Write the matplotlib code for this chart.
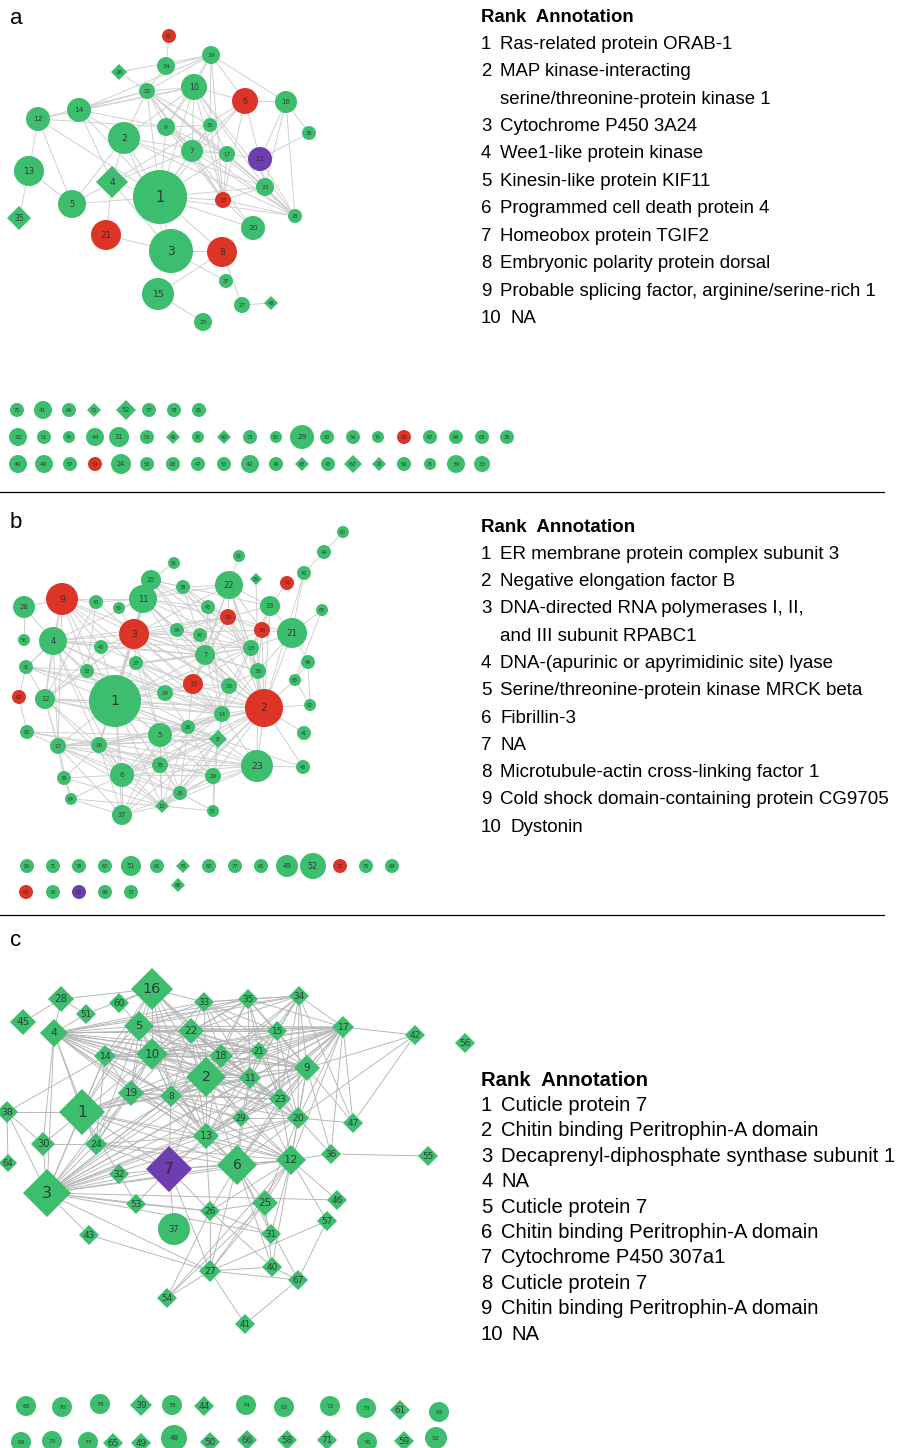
import matplotlib.pyplot as plt
from matplotlib.patches import Circle, RegularPolygon

GREEN = "#3dbd6e"
RED = "#dc3427"
PURPLE = "#6e3db0"
COLS = {"g": GREEN, "r": RED, "p": PURPLE}

# ---------------- panel a: network ----------------
a_ids = [61, 19, 34, 26, 22, 10, 6, 16, 14, 12, 9, 30, 38, 2, 7, 17, 11, 13, 4, 1,
         23, 18, 5, 28, 35, 20, 21, 3, 8, 37, 15, 27, 48, 25]
a_x = [169, 211, 166, 119, 147, 194, 245, 286, 79, 38, 166, 210, 309, 124, 192, 227, 260, 29, 112, 160,
       265, 223, 72, 295, 19, 253, 106, 171, 222, 226, 158, 242, 271, 203]
a_y = [36, 55, 66, 72, 91, 87, 101, 102, 110, 119, 127, 125, 133, 138, 151, 154, 159, 171, 182, 197,
       187, 200, 204, 216, 218, 228, 235, 251, 252, 281, 294, 305, 303, 322]
a_size = [7, 9, 9, 8, 8, 13, 13, 11, 12, 12, 9, 7, 7, 16, 11, 8, 12, 15, 16, 27,
          9, 8, 14, 7, 12, 12, 15, 22, 15, 7, 16, 8, 7, 9]
a_shape = ["c", "c", "c", "d", "c", "c", "c", "c", "c", "c", "c", "c", "c", "c", "c", "c", "c", "c", "d", "c",
           "c", "c", "c", "c", "d", "c", "c", "c", "c", "c", "c", "c", "d", "c"]
a_col = ["r", "g", "g", "g", "g", "g", "r", "g", "g", "g", "g", "g", "g", "g", "g", "g", "p", "g", "g", "g",
         "g", "r", "g", "g", "g", "g", "r", "g", "r", "g", "g", "g", "g", "g"]
a_links = {
    61: [34], 34: [19, 22], 26: [19, 22],
    19: [22, 10, 16, 6, 9, 30, 18, 14],
    22: [14, 10, 2, 9, 1, 7, 17, 23, 28, 30, 18, 12],
    10: [14, 6, 9, 7, 1, 2, 17, 18, 23, 28, 12],
    6: [16, 11, 1, 18, 7, 4], 16: [11, 38, 23, 28], 38: [11],
    14: [2, 9, 4, 1], 12: [9, 13, 5, 1], 9: [30, 1, 17, 18, 28, 7],
    30: [7, 1, 18], 2: [5, 4, 1, 3, 17, 23, 28], 7: [1, 17, 18, 20, 28, 4],
    17: [11, 1, 23, 28, 18], 11: [23, 28], 13: [5, 35], 4: [1, 21, 3, 5],
    1: [5, 23, 18, 20, 28, 3, 8], 23: [18, 28], 18: [28, 20], 21: [3],
    3: [8, 37], 8: [15, 27], 15: [25], 27: [48],
}

# panel a: unconnected nodes, three rows
ai_ids = [70, 41, 64, 71, 52, 77, 78, 81,
          32, 51, 74, 44, 31, 53, 45, 76, 60, 73, 80, 29, 50, 54, 79, 69, 67, 66, 63, 36,
          49, 40, 57, 59, 24, 58, 68, 47, 55, 42, 46, 65, 43, 62, 72, 56, 75, 39, 33]
ai_x = [17, 43, 69, 94, 126, 149, 174, 199,
        18, 44, 69, 95, 119, 147, 173, 198, 224, 250, 276, 302, 327, 353, 378, 404, 430, 456, 482, 507,
        18, 44, 70, 95, 121, 147, 173, 198, 224, 250, 276, 302, 328, 353, 379, 404, 430, 456, 482]
ai_y = [410] * 8 + [437] * 20 + [464] * 19
ai_size = [7, 9, 7, 7, 10, 7, 7, 7,
           9, 7, 6, 9, 10, 7, 7, 6, 7, 7, 6, 12, 7, 7, 6, 7, 7, 7, 7, 7,
           9, 9, 7, 7, 10, 7, 7, 7, 7, 9, 7, 7, 7, 9, 7, 7, 6, 9, 8]
ai_shape = ["c", "c", "c", "d", "d", "c", "c", "c",
            "c", "c", "c", "c", "c", "c", "d", "c", "d", "c", "c", "c", "c", "c", "c", "c", "c", "c", "c", "c",
            "c", "c", "c", "c", "c", "c", "c", "c", "c", "c", "c", "d", "c", "d", "d", "c", "c", "c", "c"]
ai_col = ["g"] * 8 + ["g"] * 15 + ["r"] + ["g"] * 4 + ["g", "g", "g", "r"] + ["g"] * 15

# ---------------- panel b: network ----------------
b_ids = [60, 44, 54, 55, 42, 20, 38, 22, 59, 74, 9, 28, 43, 53, 11, 45, 33, 68, 18, 36,
         21, 56, 4, 3, 34, 47, 40, 7, 13, 27, 31, 32, 46, 30, 58, 19, 15, 24, 61, 12,
         1, 2, 62, 14, 26, 50, 41, 5, 8, 17, 16, 35, 23, 48, 39, 6, 29, 25, 64, 10, 57, 37]
b_x = [343, 324, 239, 174, 304, 151, 183, 229, 256, 287, 62, 24, 96, 119, 143, 208, 270, 322, 228, 262,
       292, 24, 53, 134, 177, 200, 101, 205, 251, 136, 26, 87, 308, 258, 295, 193, 229, 165, 19, 45,
       115, 264, 310, 222, 188, 27, 304, 160, 218, 58, 99, 160, 257, 303, 64, 122, 213, 180, 71, 162, 213, 122]
b_y = [532, 552, 556, 563, 573, 580, 587, 585, 579, 583, 599, 607, 602, 608, 599, 607, 606, 610, 617, 630,
       633, 640, 641, 634, 630, 635, 647, 655, 648, 663, 667, 671, 662, 671, 680, 684, 686, 693, 697, 699,
       701, 708, 705, 714, 727, 732, 733, 735, 739, 746, 745, 765, 766, 767, 778, 775, 776, 793, 799, 806, 811, 815]
b_size = [6, 7, 6, 6, 7, 10, 7, 14, 6, 7, 16, 11, 7, 6, 14, 7, 10, 6, 8, 8,
          15, 6, 14, 15, 7, 7, 7, 10, 8, 7, 7, 7, 7, 8, 6, 10, 8, 8, 7, 10,
          26, 19, 6, 8, 7, 7, 7, 12, 9, 8, 8, 8, 16, 7, 7, 12, 8, 7, 6, 7, 6, 10]
b_shape = ["c"] * 8 + ["d"] + ["c"] * 39 + ["d"] + ["c"] * 10 + ["d"] + ["c"] * 2
b_col = (["g"] * 9 + ["r", "r"] + ["g"] * 7 + ["r", "r"] + ["g"] * 3 + ["r"] + ["g"] * 11
         + ["r"] + ["g"] * 2 + ["r", "g", "g", "r"] + ["g"] * 20)
b_links = {
    60: [44], 44: [42], 42: [21, 2], 54: [22], 55: [20],
    20: [38, 11, 3, 18, 7, 33, 13, 1, 2], 38: [11, 18, 22, 7, 13, 2],
    22: [11, 18, 33, 13, 3, 36, 7, 19, 2, 30], 59: [30], 74: [33],
    33: [21, 18, 36, 2, 13], 68: [21, 58], 21: [46, 2, 36, 30, 18, 13],
    46: [62, 58], 58: [2, 62],
    9: [28, 43, 4, 3, 12, 17, 1, 32, 40, 11, 7, 24, 14],
    28: [56, 4], 43: [11, 32, 12, 3], 53: [3, 11],
    11: [3, 4, 18, 7, 45, 34, 13, 14, 2, 1, 16, 15],
    45: [18, 7, 14], 18: [3, 36, 13, 7, 47, 19, 34, 2, 30, 4],
    36: [3, 13, 30, 2, 7],
    4: [12, 17, 40, 3, 7, 1, 32, 14, 31, 24, 6, 16, 13],
    3: [40, 7, 34, 47, 13, 27, 1, 19, 14, 2, 15, 5, 12, 16, 30],
    34: [7, 13, 2, 47], 47: [7, 15], 40: [1, 7, 19, 12],
    7: [13, 19, 15, 2, 1, 27, 14, 30, 32], 13: [19, 30, 2, 15, 1, 14, 27],
    27: [1, 19, 5, 14, 24], 31: [61, 32, 1, 24, 14, 12, 4], 61: [50],
    50: [17, 16, 5, 23], 32: [1, 2, 12, 24, 8], 30: [2, 15, 23, 14],
    19: [15, 1, 2, 14, 24, 26], 15: [2, 14, 24, 26, 8], 24: [1, 14, 2, 26],
    12: [1, 14, 2, 16, 6, 17, 8, 26],
    1: [2, 5, 6, 8, 14, 16, 17, 25, 10, 37, 26, 35, 23, 29],
    2: [14, 8, 23, 29, 41, 48, 62, 25, 5, 26, 35, 6, 16, 10],
    14: [26, 8, 5, 23, 16, 35, 6], 26: [5, 8, 6, 25, 29, 10, 17],
    5: [8, 16, 17, 35, 6, 10, 25, 23, 37],
    8: [23, 29, 6, 16, 17, 35, 25, 10, 37, 48, 57],
    17: [39, 6, 37, 10, 16, 23, 12, 25, 64, 35],
    16: [6, 39, 35, 10, 37, 25, 29], 35: [6, 25, 10, 37, 23, 29],
    23: [48, 29, 25, 6, 10], 39: [6, 10, 64], 6: [25, 10, 37, 64, 29],
    29: [57, 25, 10], 25: [10, 37, 57], 64: [37, 10], 10: [37, 57],
}

bi_ids = [80, 71, 78, 67, 51, 81, 70, 83, 77, 65, 49, 52, 72, 75, 69,
          63, 76, 82, 66, 73, 86]
bi_x = [27, 53, 79, 105, 131, 157, 183, 209, 235, 261, 287, 313, 340, 366, 392,
        26, 53, 79, 105, 131, 178]
bi_y = [866] * 15 + [892] * 5 + [885]
bi_size = [7, 7, 7, 7, 10, 7, 7, 7, 7, 7, 11, 13, 7, 7, 7,
           7, 7, 7, 7, 7, 7]
bi_shape = ["c"] * 6 + ["d"] + ["c"] * 13 + ["d"]
bi_col = ["g"] * 12 + ["r"] + ["g"] * 2 + ["r", "g", "p", "g", "g", "g"]

# ---------------- panel c: network ----------------
c_ids = [16, 28, 60, 33, 45, 51, 4, 5, 22, 14, 10, 18, 2, 19, 8, 1, 30, 24, 38, 13,
         35, 34, 15, 17, 42, 56, 21, 9, 11, 23, 29, 20, 47, 64, 7, 6, 12, 36, 55, 32,
         3, 53, 26, 25, 46, 57, 37, 31, 43, 27, 40, 67, 54, 41]
c_x = [152, 61, 119, 204, 23, 86, 54, 139, 191, 105, 152, 221, 206, 131, 171, 82, 43, 96, 7, 206,
       248, 299, 277, 343, 415, 465, 259, 307, 250, 280, 241, 298, 353, 8, 169, 237, 291, 331, 428, 119,
       47, 136, 210, 265, 337, 327, 174, 271, 89, 210, 272, 298, 167, 245]
c_y = [989, 999, 1003, 1002, 1022, 1014, 1033, 1026, 1031, 1056, 1054, 1056, 1077, 1093, 1096, 1112, 1144, 1144, 1112, 1136,
       999, 996, 1031, 1027, 1035, 1043, 1051, 1068, 1078, 1099, 1118, 1118, 1123, 1163, 1169, 1165, 1160, 1154, 1156, 1174,
       1193, 1204, 1211, 1203, 1200, 1221, 1229, 1234, 1235, 1271, 1267, 1280, 1298, 1324]
c_size = [21, 13, 10, 10, 13, 10, 14, 15, 13, 11, 16, 12, 20, 13, 11, 23, 12, 11, 11, 13,
          10, 10, 10, 11, 10, 10, 9, 13, 11, 11, 9, 11, 10, 9, 23, 20, 15, 10, 10, 10,
          24, 10, 10, 13, 10, 10, 16, 10, 10, 11, 10, 10, 10, 10]
c_shape = ["d"] * 46 + ["c"] + ["d"] * 7
c_col = ["g"] * 34 + ["p"] + ["g"] * 19
c_links = {
    45: [28], 28: [51, 16, 4], 60: [16, 5], 51: [4, 16],
    16: [5, 10, 22, 33, 2, 18, 14, 1, 19, 13, 11, 8],
    33: [5, 22, 2, 18, 11, 21, 15, 34, 35, 10, 4, 9],
    4: [5, 14, 10, 22, 2, 19, 8, 18, 11, 1, 3, 30, 24, 12, 9, 17, 21, 15, 35, 34, 23, 20, 6, 13],
    5: [22, 14, 10, 18, 2, 19, 8, 1, 11, 21, 15, 35, 34, 17, 9, 23, 13, 24],
    22: [10, 18, 2, 35, 34, 15, 21, 11, 17, 9, 8, 19, 13, 23, 29, 20],
    35: [34, 15, 21, 17, 2, 11, 18, 9, 23, 10],
    34: [15, 21, 17, 9, 11, 20, 23, 47, 2, 18],
    15: [17, 21, 9, 11, 2, 18, 10, 23, 20],
    17: [21, 9, 11, 23, 20, 2, 18, 10, 12, 6, 7, 42, 47, 13, 8, 3, 29, 36, 14, 1],
    42: [9, 20, 47],
    14: [10, 2, 19, 8, 18, 1, 24, 3, 11, 38],
    10: [2, 18, 19, 8, 1, 11, 13, 3, 24, 23, 9, 21],
    18: [2, 11, 21, 8, 13, 9, 23, 3, 1],
    2: [11, 21, 9, 19, 8, 13, 23, 29, 20, 6, 7, 12, 3, 1, 24],
    21: [11, 9, 23, 20, 13, 3],
    9: [11, 23, 20, 12, 6, 13, 47, 36, 3, 1, 29],
    11: [23, 29, 20, 13, 6, 12, 3, 1, 19, 8],
    19: [8, 1, 24, 3, 13, 29, 12, 23],
    8: [1, 13, 29, 23, 3, 12, 7, 6, 20],
    23: [29, 20, 12, 6, 13, 3], 29: [20, 13, 12, 6, 3],
    20: [12, 6, 13, 47, 36, 3, 7, 25],
    1: [38, 30, 24, 3, 13, 12, 6, 7, 32],
    38: [30, 64, 3], 30: [3, 24], 24: [3, 13, 12, 7, 6],
    13: [7, 6, 12, 3, 26],
    3: [32, 7, 6, 12, 53, 26, 43, 27, 46, 31],
    7: [6, 12, 53, 37, 26, 27, 32],
    6: [12, 25, 26, 31, 40, 27, 67],
    12: [36, 25, 26, 31, 40, 27, 57, 46, 54],
    36: [55], 32: [53], 53: [26], 26: [25, 27, 54, 31, 40],
    25: [54, 27, 40], 43: [27], 27: [54, 41, 67, 40, 57],
    57: [67], 41: [67], 40: [67],
}

ci_ids = [68, 70, 79, 39, 78, 44, 74, 62, 72, 73, 61, 63,
          69, 75, 77, 65, 49, 48, 50, 66, 58, 71, 76, 59, 52]
ci_x = [26, 62, 100, 141, 172, 204, 246, 284, 330, 366, 400, 439,
        21, 52, 88, 113, 141, 174, 210, 247, 287, 327, 367, 404, 436]
ci_y = [1406, 1407, 1404, 1405, 1405, 1406, 1405, 1407, 1406, 1408, 1410, 1412,
        1442, 1441, 1442, 1443, 1443, 1438, 1442, 1440, 1440, 1440, 1442, 1441, 1438]
ci_size = [10, 10, 10, 11, 10, 10, 10, 10, 10, 10, 10, 10,
           10, 10, 10, 10, 10, 13, 10, 10, 10, 10, 10, 10, 11]
ci_shape = ["c", "c", "c", "d", "c", "d", "c", "c", "c", "c", "d", "c",
            "c", "c", "c", "d", "d", "c", "d", "d", "d", "d", "c", "d", "c"]
ci_col = ["g"] * 25

# ---------------- annotation tables ----------------
a_annot = ["Ras-related protein ORAB-1",
           "MAP kinase-interacting\nserine/threonine-protein kinase 1",
           "Cytochrome P450 3A24",
           "Wee1-like protein kinase",
           "Kinesin-like protein KIF11",
           "Programmed cell death protein 4",
           "Homeobox protein TGIF2",
           "Embryonic polarity protein dorsal",
           "Probable splicing factor, arginine/serine-rich 1",
           "NA"]
b_annot = ["ER membrane protein complex subunit 3",
           "Negative elongation factor B",
           "DNA-directed RNA polymerases I, II,\nand III subunit RPABC1",
           "DNA-(apurinic or apyrimidinic site) lyase",
           "Serine/threonine-protein kinase MRCK beta",
           "Fibrillin-3",
           "NA",
           "Microtubule-actin cross-linking factor 1",
           "Cold shock domain-containing protein CG9705",
           "Dystonin"]
c_annot = ["Cuticle protein 7",
           "Chitin binding Peritrophin-A domain",
           "Decaprenyl-diphosphate synthase subunit 1",
           "NA",
           "Cuticle protein 7",
           "Chitin binding Peritrophin-A domain",
           "Cytochrome P450 307a1",
           "Cuticle protein 7",
           "Chitin binding Peritrophin-A domain",
           "NA"]


def draw_net(ax, ids, xs, ys, sizes, shapes, cols, links, edge_col, circ_fs, dia_fs):
    pos = {n: (x, y) for n, x, y in zip(ids, xs, ys)}
    for n, nbrs in links.items():
        for m in nbrs:
            ax.plot([pos[n][0], pos[m][0]], [pos[n][1], pos[m][1]],
                    color=edge_col, lw=0.65, zorder=1, solid_capstyle="round")
    for n, x, y, s, sh, c in zip(ids, xs, ys, sizes, shapes, cols):
        if sh == "d":
            p = RegularPolygon((x, y), 4, radius=s, orientation=0,
                               facecolor=COLS[c], edgecolor="none", zorder=2)
            fs = dia_fs[0] * s + dia_fs[1]
        else:
            p = Circle((x, y), s, facecolor=COLS[c], edgecolor="none", zorder=2)
            fs = circ_fs[0] * s + circ_fs[1]
        ax.add_patch(p)
        ax.text(x, y + 0.3, str(n), ha="center", va="center", fontsize=fs,
                color="#2a2a2a", alpha=0.85, zorder=3, clip_on=True)


def draw_table(ax, y0, step, lines, fs, gap):
    ax.text(481, y0, "Rank  Annotation", fontsize=fs, fontweight="bold",
            va="center", ha="left", family="Liberation Sans")
    y = y0
    for i, txt in enumerate(lines, 1):
        y += step
        xoff = 510 if i >= 10 else 500
        ax.text(481, y, str(i), fontsize=fs, va="center", ha="left", family="Liberation Sans")
        for j, part in enumerate(txt.split("\n")):
            if j > 0:
                y += step
            ax.text(xoff + gap, y, part, fontsize=fs, va="center", ha="left", family="Liberation Sans")


fig = plt.figure(figsize=(8.97, 14.48), dpi=100)
ax = fig.add_axes([0, 0, 1, 1])
ax.set_xlim(0, 897)
ax.set_ylim(1448, 0)
ax.axis("off")

draw_net(ax, a_ids, a_x, a_y, a_size, a_shape, a_col, a_links, "#cdcdcd", (0.34, 1.3), (0.33, 1.5))
draw_net(ax, ai_ids, ai_x, ai_y, ai_size, ai_shape, ai_col, {}, "#cdcdcd", (0.34, 1.3), (0.33, 1.5))
draw_net(ax, b_ids, b_x, b_y, b_size, b_shape, b_col, b_links, "#cdcdcd", (0.34, 1.3), (0.33, 1.5))
draw_net(ax, bi_ids, bi_x, bi_y, bi_size, bi_shape, bi_col, {}, "#cdcdcd", (0.34, 1.3), (0.33, 1.5))
draw_net(ax, c_ids, c_x, c_y, c_size, c_shape, c_col, c_links, "#b4b4b4", (0.3, 1.3), (0.36, 2.8))
draw_net(ax, ci_ids, ci_x, ci_y, ci_size, ci_shape, ci_col, {}, "#b4b4b4", (0.3, 1.3), (0.36, 2.8))

draw_table(ax, 17, 27.4, a_annot, 13.4, 0)
draw_table(ax, 527, 27.3, b_annot, 13.5, 0)
draw_table(ax, 1080, 25.4, c_annot, 14.6, 1)

for lab, y in [("a", 18), ("b", 523), ("c", 940)]:
    ax.text(10, y, lab, fontsize=16, va="center", ha="left", family="Liberation Sans")
for y in [492, 915]:
    ax.plot([0, 884], [y, y], color="black", lw=0.9)

fig.savefig("out.png", dpi=100)
